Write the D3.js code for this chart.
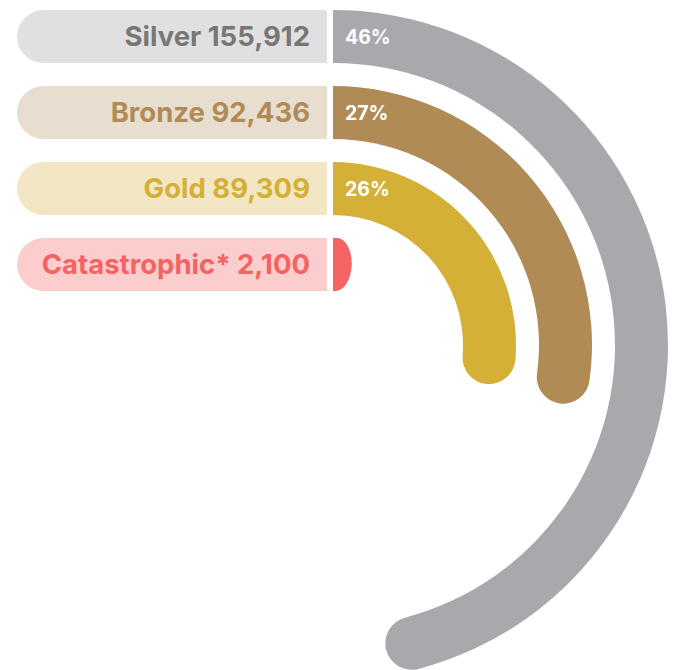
<!DOCTYPE html>
<html>
<head>
<meta charset="utf-8">
<title>Medal radial bars</title>
<script src="https://cdn.jsdelivr.net/npm/d3@7"></script>
<style>
	body { margin: 0; padding: 0; background: #fff; }
	svg { display: block; }
	.label { font-family: Inter, Lato, sans-serif; font-weight: 700; }
	.pct { font-family: Inter, Lato, sans-serif; font-weight: 700; fill: #fff; }
</style>
</head>
<body>
<div id="chart"></div>
<script>

// data
var categories = ["Silver", "Bronze", "Gold", "Catastrophic*"];
var values = [155912, 92436, 89309, 2100];

var arcColors  = ["#a9a8ad", "#b08b55", "#d4b036", "#f66363"];
var pillColors = ["#e0e0e0", "#e8decf", "#f2e6c4", "#fccdcd"];
var textColors = ["#777777", "#b08b55", "#d4b036", "#f46262"];

var width = 675,
	height = 670,
	cx = 333,
	pillLeft = 17,
	pillRight = 327;

var total = d3.sum(values);

var svg = d3.select("#chart").append("svg")
	.attr("width", width)
	.attr("height", height);

// rows: one band per category, same for pill and ring
var y = d3.scaleBand()
	.domain(categories)
	.range([10, 291])
	.paddingInner(0.3026)
	.paddingOuter(0);

var bw = y.bandwidth();
var cy = y(categories[0]) + (width - 7 - cx);   // centre of rings

var angle = d3.scaleLinear()
	.domain([0, total])
	.range([0, 2 * Math.PI]);

var fmt = d3.format(",");

var rows = categories.map(function(c, i) {
	return { cat: c, value: values[i], i: i };
});

// label pills, rounded on the left only
function pillPath(top) {
	var r = bw / 2;
	return "M" + pillRight + "," + top +
		"H" + (pillLeft + r) +
		"A" + r + "," + r + " 0 0 0 " + (pillLeft + r) + "," + (top + bw) +
		"H" + pillRight + "Z";
}

svg.selectAll(".pill")
	.data(rows)
	.enter().append("path")
	.attr("class", "pill")
	.attr("d", function(d) { return pillPath(y(d.cat)); })
	.attr("fill", function(d) { return pillColors[d.i]; });

svg.selectAll(".label")
	.data(rows)
	.enter().append("text")
	.attr("class", "label")
	.attr("x", 310)
	.attr("y", function(d) { return y(d.cat) + bw / 2 + 9.5; })
	.attr("text-anchor", "end")
	.attr("font-size", "27.5px")
	.attr("fill", function(d) { return textColors[d.i]; })
	.text(function(d) { return d.cat + " " + fmt(d.value); });

// rings: flat start, rounded end cap
var g = svg.append("g").attr("transform", "translate(" + cx + "," + cy + ")");

var arc = d3.arc();

function ringPath(d) {
	var r1 = cy - y(d.cat),
		r0 = r1 - bw,
		a = angle(d.value),
		rm = (r0 + r1) / 2,
		hw = bw / 2;
	var body = arc({ innerRadius: r0, outerRadius: r1, startAngle: 0, endAngle: a });
	// cap: half ellipse past the end angle
	var capLen = Math.min(hw, rm * a * 5);
	var ex1 = r1 * Math.sin(a), ey1 = -r1 * Math.cos(a),
		ex0 = r0 * Math.sin(a), ey0 = -r0 * Math.cos(a);
	var deg = a * 180 / Math.PI;
	var cap = "M" + ex1 + "," + ey1 +
		"A" + capLen + "," + hw + " " + deg + " 0 1 " + ex0 + "," + ey0 + "Z";
	return body + cap;
}

g.selectAll(".ring")
	.data(rows)
	.enter().append("path")
	.attr("class", "ring")
	.attr("d", ringPath)
	.attr("fill", function(d) { return arcColors[d.i]; });

g.selectAll(".pct")
	.data(rows.filter(function(d) { return d.value / total > 0.05; }))
	.enter().append("text")
	.attr("class", "pct")
	.attr("x", 12)
	.attr("y", function(d) { return y(d.cat) - cy + bw / 2 + 7; })
	.attr("font-size", "19.5px")
	.text(function(d) { return Math.round(d.value / total * 100) + "%"; });

</script>
</body>
</html>
